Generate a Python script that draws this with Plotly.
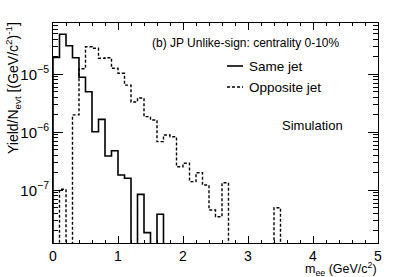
import plotly.graph_objects as go

# ---------------- data ----------------
bin_width = 0.1
same_jet = [1.96e-5, 4.9e-5, 3.1e-5, 1.93e-5, 8.9e-6, 5.0e-6, 1.02e-6, 1.67e-6,
            3.9e-7, 4.8e-7, 1.84e-7, 1.61e-7, 0.0, 8.5e-8, 1.86e-8, 0.0, 3.86e-8]
opposite_jet = [0.0, 1.04e-7, 0.0, 2.0e-6, 1.25e-5, 2.99e-5, 2.81e-5, 1.89e-5,
                1.93e-5, 1.27e-5, 1.04e-5, 6.5e-6, 3.33e-6, 3.9e-6, 1.86e-6, 1.63e-6,
                6.9e-7, 8.98e-7, 8.4e-7, 2.55e-7, 2.92e-7, 1.41e-7, 2.01e-7, 1.23e-7,
                4.57e-8, 3.5e-8, 1.35e-7, 0.0, 0.0, 0.0, 0.0, 0.0, 0.0, 0.0, 5.0e-8]
x_ticks = [0, 1, 2, 3, 4, 5]
y_ticks = [1e-7, 1e-6, 1e-5]
y_tick_text = ["10<sup>−7</sup>", "10<sup>−6</sup>", "10<sup>−5</sup>"]

FLOOR = 1e-9  # below the visible range: zero bins drop off the frame


def step_xy(values):
    edges = [round(i * bin_width, 6) for i in range(len(values) + 1)]
    ys = [v if v > 0 else FLOOR for v in values]
    x = [edges[0]] + edges
    y = [FLOOR] + ys + [FLOOR]
    return x, y


fig = go.Figure()
xs, ys = step_xy(same_jet)
fig.add_trace(go.Scatter(x=xs, y=ys, mode="lines", line=dict(color="black", width=1.6, shape="hv"),
                         name="Same jet", showlegend=False))
xo, yo = step_xy(opposite_jet)
fig.add_trace(go.Scatter(x=xo, y=yo, mode="lines",
                         line=dict(color="black", width=1.4, shape="hv", dash="3px,2px"),
                         name="Opposite jet", showlegend=False))

W, H = 407, 277
L, R, T, B = 53, 378, 23, 243
pw, ph = R - L, B - T


def px(x):
    return (x - L) / pw


def py(y):
    return (B - y) / ph


minor_y = [k * 10 ** d for d in range(-8, -3) for k in range(2, 10)]
font = "Liberation Sans, Arial, Helvetica, sans-serif"

fig.update_layout(
    width=W, height=H,
    margin=dict(l=L, r=W - R, t=T, b=H - B),
    paper_bgcolor="white", plot_bgcolor="white",
    font=dict(family=font, color="black"),
    xaxis=dict(range=[0, 5], tickvals=x_ticks, ticks="inside", ticklen=6.6, tickwidth=1,
               tickcolor="black", showgrid=False, zeroline=False, showline=True,
               linecolor="black", linewidth=1, mirror="ticks",
               tickfont=dict(size=14, family=font),
               minor=dict(dtick=0.2, tick0=0, ticks="inside", ticklen=3.3, tickcolor="black",
                          showgrid=False)),
    yaxis=dict(type="log", range=[-7.909, -4.1155], tickvals=y_ticks, ticktext=y_tick_text,
               ticks="inside", ticklen=9.75, tickwidth=1, tickcolor="black", showgrid=False,
               zeroline=False, showline=True, linecolor="black", linewidth=1, mirror="ticks",
               tickfont=dict(size=15, family=font),
               minor=dict(tickvals=minor_y, ticks="inside", ticklen=4.9, tickcolor="black",
                          showgrid=False)),
)

ann = [
    dict(text="(b) JP Unlike-sign: centrality 0-10%", x=px(150), y=py(43), size=12, xanchor="left", yanchor="middle"),
    dict(text="Same jet", x=px(247), y=py(66), size=13.5, xanchor="left", yanchor="middle"),
    dict(text="Opposite jet", x=px(247), y=py(87), size=13.5, xanchor="left", yanchor="middle"),
    dict(text="Simulation", x=px(280), y=py(125), size=13, xanchor="left", yanchor="middle"),
    dict(text="m<sub>ee</sub> (GeV/c<sup>2</sup>)", x=px(379), y=py(268.5), size=12.5, xanchor="right", yanchor="middle"),
]
for a in ann:
    fig.add_annotation(text=a["text"], x=a["x"], y=a["y"], xref="paper", yref="paper",
                       xanchor=a["xanchor"], yanchor=a["yanchor"], showarrow=False,
                       font=dict(size=a["size"], family=font, color="black"))

fig.add_annotation(text="Yield/N<sub>evt</sub> [(GeV/c<sup>2</sup>)<sup>-1</sup>]", x=px(13), y=py(20),
                   xref="paper", yref="paper", xanchor="center", yanchor="top", textangle=-90,
                   showarrow=False, font=dict(size=14, family=font, color="black"))

fig.add_shape(type="line", xref="paper", yref="paper", x0=px(227), x1=px(243), y0=py(66), y1=py(66),
              line=dict(color="black", width=1.6))
fig.add_shape(type="line", xref="paper", yref="paper", x0=px(227), x1=px(243), y0=py(87), y1=py(87),
              line=dict(color="black", width=1.4, dash="3px,2px"))

fig.write_html("out.html", config={"displayModeBar": False},
               post_script="document.body.style.margin='0px';")
